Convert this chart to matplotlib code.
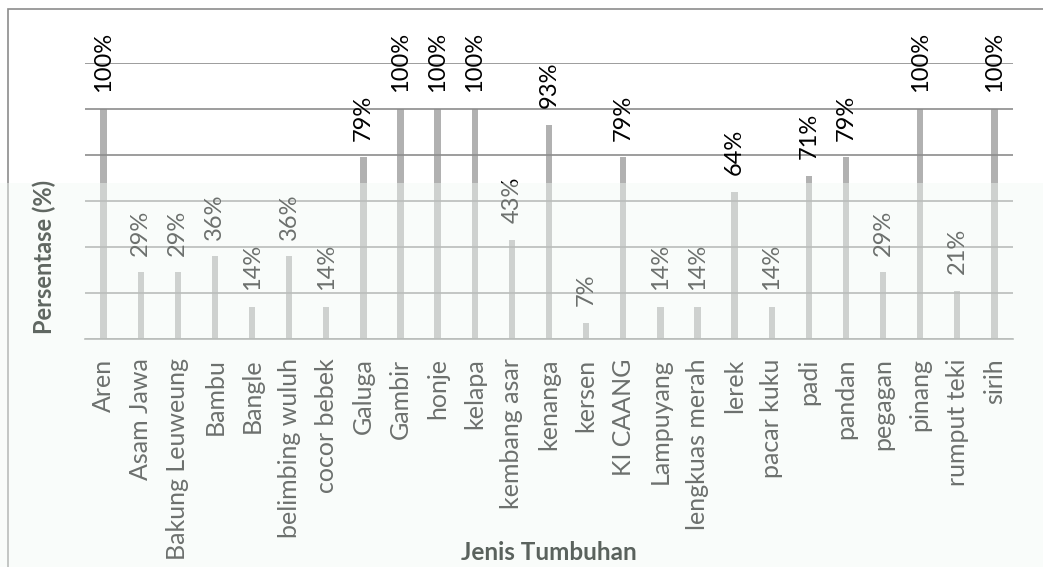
import numpy as np
import matplotlib
matplotlib.use('Agg')
from matplotlib import pyplot as plt
from matplotlib.patches import Rectangle

plt.rcParams['font.family'] = ['Lato', 'DejaVu Sans']

# data
jenis = ['Aren', 'Asam Jawa', 'Bakung Leuweung', 'Bambu', 'Bangle',
         'belimbing wuluh', 'cocor bebek', 'Galuga', 'Gambir', 'honje',
         'kelapa', 'kembang asar', 'kenanga', 'kersen', 'KI CAANG',
         'Lampuyang', 'lengkuas merah', 'lerek', 'pacar kuku', 'padi',
         'pandan', 'pegagan', 'pinang', 'rumput teki', 'sirih']
persen = [100, 29, 29, 36, 14, 36, 14, 79, 100, 100, 100, 43, 93, 7, 79,
          14, 14, 64, 14, 71, 79, 29, 100, 21, 100]

W, H = 1043, 567
fig = plt.figure(figsize=(W / 100, H / 100), dpi=100)
ax = fig.add_axes([85 / W, 1 - 339 / H, (1013 - 85) / W, (339 - 63) / H])

x = np.arange(len(jenis))
ax.bar(x, persen, width=0.17, color='#b1b1b1', zorder=2)

for i, v in zip(x, persen):
    ax.annotate(f'{v}%', (i, v), xytext=(0, 12), textcoords='offset points',
                rotation=90, ha='center', va='bottom', fontsize=17, color='black')

ax.set_xlim(-0.5, len(jenis) - 0.5)
ax.set_ylim(0, 120)
ax.set_yticks(np.arange(0, 121, 20))
ax.yaxis.grid(True, color='#8c8c8c', linewidth=1.2, zorder=3)
ax.set_axisbelow(False)
ax.tick_params(axis='y', left=False, labelleft=False)
ax.set_xticks(x)
ax.set_xticklabels(jenis, rotation=90, fontsize=18, color='black')
ax.tick_params(axis='x', length=0, pad=14)
for s in ['top', 'right', 'left']:
    ax.spines[s].set_visible(False)
ax.spines['bottom'].set_color('#8c8c8c')
ax.spines['bottom'].set_linewidth(1.2)

# chart border (runs off right/bottom edge)
fig.patches.append(Rectangle((8 / W, -0.1), 1.2, 1 - 9 / H + 0.1,
                             transform=fig.transFigure, fill=False,
                             edgecolor='#8c8c8c', linewidth=1.2, zorder=1))
# faded lower half (watermark overlay) - sits over the axes, under the titles
fig.patches.append(Rectangle((0, 0), 1, (H - 183) / H, transform=fig.transFigure,
                             facecolor='#f2faf5', edgecolor='none', alpha=0.45,
                             zorder=2))

fig.text(44 / W, 1 - 257 / H, 'Persentase (%)', rotation=90, ha='center',
         va='center', fontsize=17, fontweight='bold', color='#5f6661', zorder=4)
fig.text(549 / W, 1 - 552 / H, 'Jenis Tumbuhan', ha='center', va='center',
         fontsize=17.5, fontweight='bold', color='#5a625d', zorder=4)

fig.savefig('out.png', dpi=100)
